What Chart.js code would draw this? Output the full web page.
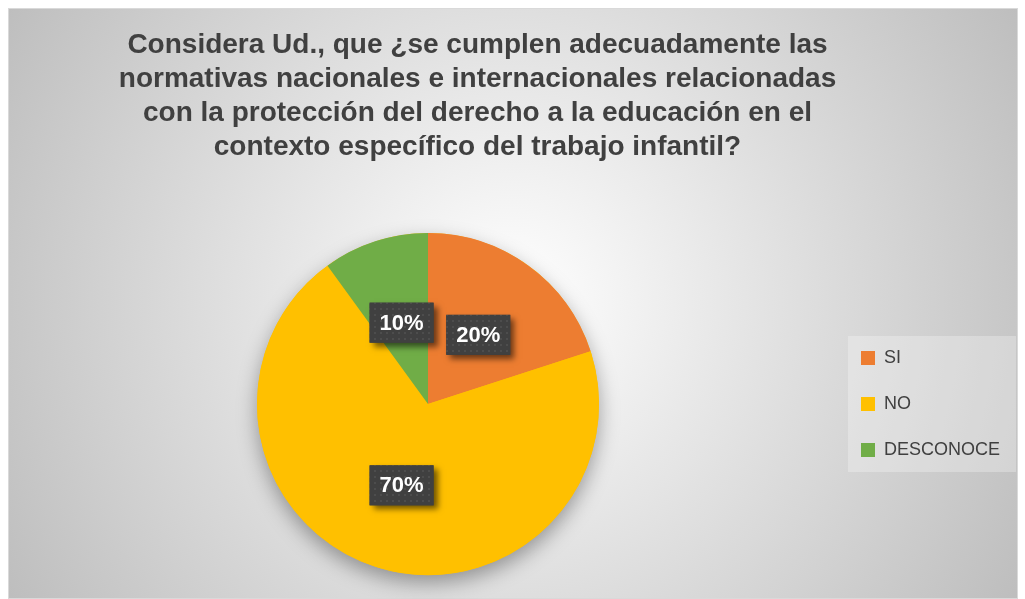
<!DOCTYPE html>
<html>
<head>
<meta charset="utf-8">
<script src="https://cdn.jsdelivr.net/npm/chart.js@4/dist/chart.umd.min.js"></script>
<style>
  html, body { margin: 0; padding: 0; background: #ffffff; }
  #wrap { width: 1025px; height: 599px; position: relative; }
</style>
</head>
<body>
<div id="wrap"><canvas id="pieChart"></canvas></div>
<script>
// ---- Data ----
const titleLines = [
    "Considera Ud., que ¿se cumplen adecuadamente las",
    "normativas nacionales e internacionales relacionadas",
    "con la protección del derecho a la educación en el",
    "contexto específico del trabajo infantil?"
];
const categories = ["SI", "NO", "DESCONOCE"];
const percentages = [20, 70, 10];
const sliceColors = ["#ED7D31", "#FFC000", "#70AD47"];

const FONT = "'Liberation Sans', Arial, sans-serif";

// ---- Background: radial grey gradient with light border ----
const backgroundPlugin = {
    id: "bgPanel",
    beforeDraw(chart) {
        const ctx = chart.ctx;
        ctx.save();
        ctx.fillStyle = "#ffffff";
        ctx.fillRect(0, 0, chart.width, chart.height);
        const g = ctx.createRadialGradient(512, 300, 0, 512, 300, 600);
        g.addColorStop(0, "#ffffff");
        g.addColorStop(1, "#bcbcbc");
        ctx.fillStyle = g;
        ctx.fillRect(8, 8, 1010, 591);
        ctx.strokeStyle = "#d9d9d9";
        ctx.lineWidth = 1;
        ctx.strokeRect(8.5, 8.5, 1009, 590);

        // faint lighter panel behind the legend
        const hb = chart.legend && chart.legend.legendHitBoxes;
        if (hb && hb.length) {
            const first = hb[0], last = hb[hb.length - 1];
            ctx.fillStyle = "rgba(255,255,255,0.28)";
            ctx.fillRect(first.left - 13, first.top - 13, 168, last.top + last.height + 13 - (first.top - 13));
        }

        // title, centred over the plot + legend block (left of the legend)
        ctx.fillStyle = "#404040";
        ctx.font = "bold 28px " + FONT;
        ctx.textAlign = "center";
        ctx.textBaseline = "middle";
        titleLines.forEach((line, i) => ctx.fillText(line, 477.5, 45 + i * 34));
        ctx.restore();
    }
};

// ---- Soft shadow under the pie ----
const pieShadowPlugin = {
    id: "pieShadow",
    beforeDatasetsDraw(chart) {
        const arc = chart.getDatasetMeta(0).data[0];
        if (!arc) return;
        const ctx = chart.ctx;
        ctx.save();
        ctx.shadowColor = "rgba(0,0,0,0.35)";
        ctx.shadowBlur = 20;
        ctx.shadowOffsetY = 8;
        ctx.fillStyle = "#FFC000";
        ctx.beginPath();
        ctx.arc(arc.x, arc.y, arc.outerRadius, 0, Math.PI * 2);
        ctx.fill();
        ctx.restore();
    }
};

// ---- Dark percentage boxes ----
function dotPattern(ctx) {
    const c = document.createElement("canvas");
    c.width = 6; c.height = 6;
    const p = c.getContext("2d");
    p.fillStyle = "#404040";
    p.fillRect(0, 0, 6, 6);
    p.fillStyle = "#4d4d4d";
    p.fillRect(2, 2, 2, 2);
    return ctx.createPattern(c, "repeat");
}

const labelBoxPlugin = {
    id: "labelBoxes",
    afterDatasetsDraw(chart) {
        const ctx = chart.ctx;
        const meta = chart.getDatasetMeta(0);
        const pattern = dotPattern(ctx);
        meta.data.forEach((arc, i) => {
            const pos = arc.tooltipPosition();
            const w = 64, h = 40;
            const x = pos.x - w / 2, y = pos.y - h / 2;
            ctx.save();
            ctx.shadowColor = "rgba(0,0,0,0.55)";
            ctx.shadowBlur = 6;
            ctx.shadowOffsetX = 4;
            ctx.shadowOffsetY = 4;
            ctx.fillStyle = "#404040";
            ctx.fillRect(x, y, w, h);
            ctx.restore();
            ctx.save();
            ctx.fillStyle = pattern;
            ctx.fillRect(x, y, w, h);
            ctx.fillStyle = "#ffffff";
            ctx.font = "bold 22px " + FONT;
            ctx.textAlign = "center";
            ctx.textBaseline = "middle";
            ctx.fillText(percentages[i] + "%", pos.x, pos.y + 1);
            ctx.restore();
        });
    }
};

new Chart(document.getElementById("pieChart"), {
    type: "pie",
    data: {
        labels: categories,
        datasets: [{
            data: percentages,
            backgroundColor: sliceColors,
            borderWidth: 0,
            hoverOffset: 0,
            offset: 0
        }]
    },
    options: {
        responsive: true,
        maintainAspectRatio: false,
        animation: false,
        layout: { padding: { left: 23, right: 15, top: 233, bottom: 24 } },
        plugins: {
            title: { display: false },
            legend: {
                display: true,
                position: "right",
                fullSize: false,
                labels: {
                    boxWidth: 14,
                    boxHeight: 14,
                    padding: 28,
                    color: "#404040",
                    font: { family: FONT, size: 18 }
                }
            },
            tooltip: { enabled: false }
        }
    },
    plugins: [backgroundPlugin, pieShadowPlugin, labelBoxPlugin]
});
</script>
</body>
</html>
